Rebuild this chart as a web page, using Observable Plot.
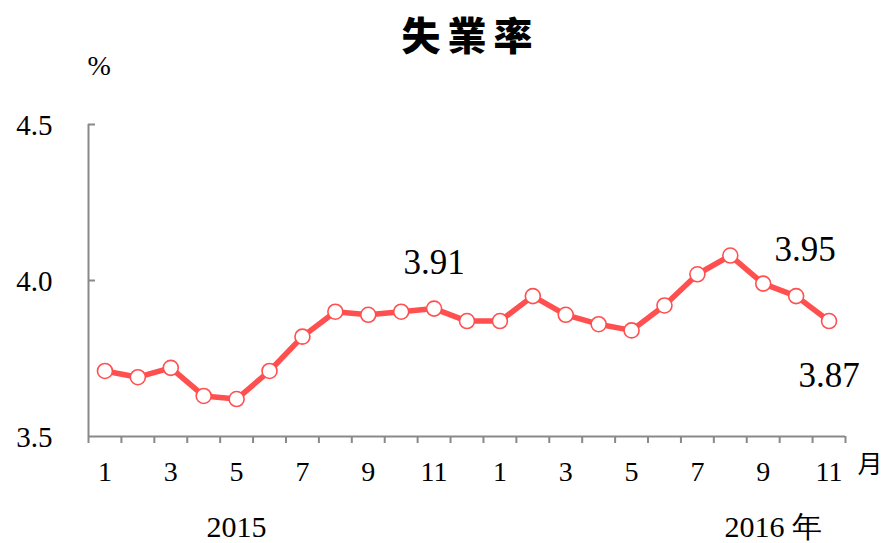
<!DOCTYPE html>
<html>
<head>
<meta charset="utf-8">
<script src="https://cdn.jsdelivr.net/npm/d3@7"></script>
<script src="https://cdn.jsdelivr.net/npm/@observablehq/plot@0.6"></script>
<style>
  html, body { margin: 0; padding: 0; background: #fff; }
  #title {
    height: 46px; width: 883px; box-sizing: border-box;
    padding-left: 58px; text-align: center;
    font-family: "Noto Sans CJK TC", "Noto Sans CJK SC", sans-serif;
    font-weight: 900; font-size: 39px; letter-spacing: 7px; line-height: 66px;
    color: #000;
  }
</style>
</head>
<body>
<div id="title">失業率</div>
<div id="chart"></div>
<script>
// ---- data ----
const monthLabels = ["1","2","3","4","5","6","7","8","9","10","11","12",
                     "1","2","3","4","5","6","7","8","9","10","11"];
const years = ["2015","2015","2015","2015","2015","2015","2015","2015","2015","2015","2015","2015",
               "2016","2016","2016","2016","2016","2016","2016","2016","2016","2016","2016"];
const rates = [3.71, 3.69, 3.72, 3.63, 3.62, 3.71, 3.82, 3.90, 3.89, 3.90, 3.91, 3.87,
               3.87, 3.95, 3.89, 3.86, 3.84, 3.92, 4.02, 4.08, 3.99, 3.95, 3.87];
const yTicks = [3.5, 4.0, 4.5];
const yearLabels = ["2015", "2016 年"];
const yearLabelMonth = [4, 20];      // index of month under which the year label sits
const annotIndex = [10, 21, 22];
const annotText = ["3.91", "3.95", "3.87"];

// ---- derived table ----
const data = rates.map((v, i) => ({i, v, m: monthLabels[i], y: years[i]}));
const oddIdx = data.filter(d => (+d.m) % 2 === 1);
const boundaries = d3.range(-0.5, rates.length, 1);
const annots = annotIndex.map((k, j) => ({i: k, v: rates[k], t: annotText[j]}));

const W = 883, H = 497;
const mL = 88, mR = 38, mT = 78, mB = 107;
const RED = "#ff4f4f", GRAY = "#898989";
const serif = "'Liberation Serif', 'Times New Roman', serif";

const chart = Plot.plot({
  width: W, height: H,
  marginLeft: mL, marginRight: mR, marginTop: mT, marginBottom: mB,
  style: {fontFamily: serif, background: "#fff", color: "#000", overflow: "visible"},
  x: {type: "linear", domain: [-0.5, rates.length - 0.5], axis: null},
  y: {domain: [3.5, 4.5], axis: null},
  marks: [
    // axes lines
    Plot.ruleX([-0.5], {y1: 3.5, y2: 4.5, stroke: GRAY, strokeWidth: 2}),
    Plot.ruleY([3.5], {x1: -0.5, x2: rates.length - 0.5, stroke: GRAY, strokeWidth: 2}),
    // x tick marks (category boundaries)
    Plot.axisX(boundaries, {anchor: "bottom", label: null, tickSize: 7, tickFormat: () => "", stroke: GRAY, strokeWidth: 2}),
    // y tick marks pointing inward
    Plot.axisY([4.0, 4.5], {anchor: "left", label: null, tickSize: -7, tickFormat: () => "", stroke: GRAY, strokeWidth: 2}),
    // y tick labels
    Plot.text(yTicks, {x: -0.5, y: d => d, text: d => d3.format(".1f")(d), textAnchor: "end", dx: -36, dy: 1, fontSize: 29}),
    // unit
    Plot.text(["%"], {frameAnchor: "top-left", dx: -1, dy: -69, fontSize: 28, fontFamily: serif}),
    // x labels (odd months)
    Plot.text(oddIdx, {x: "i", frameAnchor: "bottom", text: "m", dy: 44, fontSize: 28}),
    Plot.text(["月"], {x: [rates.length - 1], frameAnchor: "bottom", dx: 41, dy: 36, fontSize: 25,
      fontFamily: "'Noto Sans CJK TC', sans-serif"}),
    // year labels
    Plot.text(yearLabels.slice(0, 1), {x: [yearLabelMonth[0]], frameAnchor: "bottom", dy: 100, fontSize: 30}),
    Plot.text(yearLabels.slice(1), {x: [yearLabelMonth[1]], frameAnchor: "bottom", dx: 10, dy: 100, fontSize: 30}),
    // series
    Plot.line(data, {x: "i", y: "v", stroke: RED, strokeWidth: 5.5, strokeLinejoin: "round"}),
    Plot.dot(data, {x: "i", y: "v", r: 7.5, fill: "white", stroke: RED, strokeWidth: 1.6}),
    // annotations
    Plot.text(annots.slice(0, 1), {x: "i", y: "v", text: "t", dy: -46, fontSize: 35}),
    Plot.text(annots.slice(1, 2), {x: "i", y: "v", text: "t", dx: 9, dy: -46, fontSize: 35}),
    Plot.text(annots.slice(2, 3), {x: "i", y: "v", text: "t", dy: 55, fontSize: 35})
  ]
});
document.getElementById("chart").appendChild(chart);
</script>
</body>
</html>
